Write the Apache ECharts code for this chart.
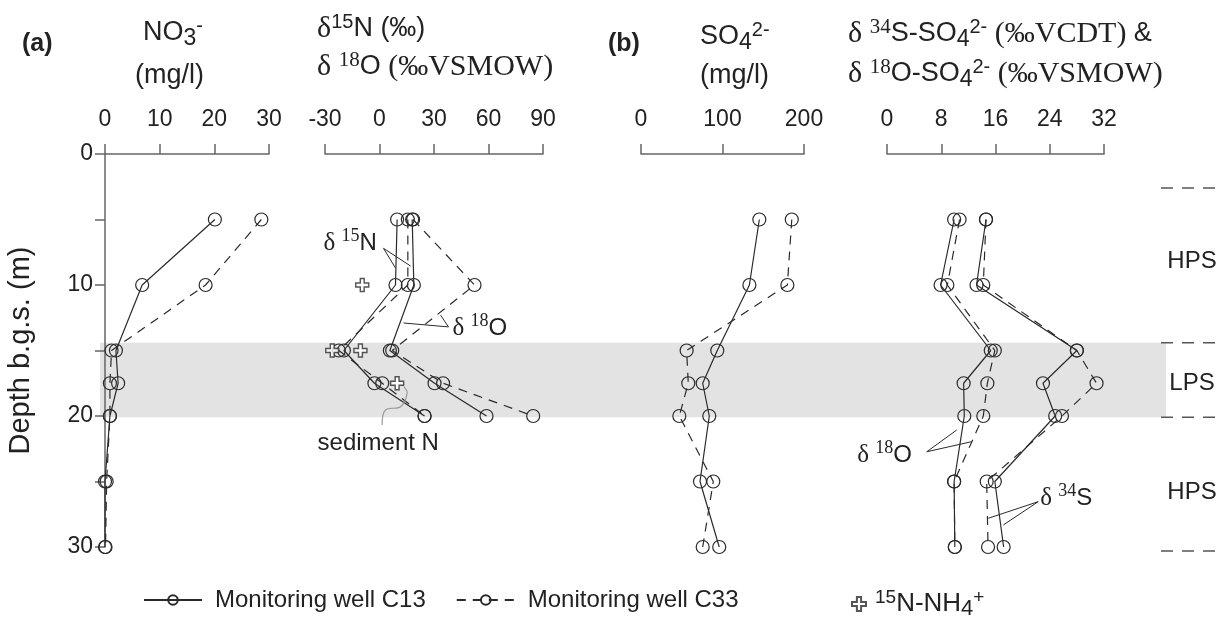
<!DOCTYPE html>
<html>
<head>
<meta charset="utf-8">
<script src="https://cdn.jsdelivr.net/npm/echarts@6/dist/echarts.min.js"></script>
<style>
  html, body { margin: 0; padding: 0; background: #fff; }
  #chart { width: 1223px; height: 617px; }
</style>
</head>
<body>
<div id="chart"></div>
<script>
// depths below ground surface (m)
const depths = [5, 10, 15, 17.5, 20, 25, 30];
const isoDepths = [5, 10, 15, 17.5, 20];

// (a) nitrate
const no3C13 = [20.1, 6.8, 2.0, 2.4, 0.9, 0, 0];
const no3C33 = [28.6, 18.4, 1.2, 0.9, 0.9, 0.3, 0.1];
const d15nC13 = [9.7, 8.8, -19.6, -2.8, 24.8];
const d15nC33 = [15.6, 15.6, -22.4, 1.5, 24.8];
const d18oC13 = [18.0, 18.9, 5.7, 30.3, 58.9];
const d18oC33 = [18.5, 52.3, 7.0, 35.0, 84.6];
const nh4Depths = [10, 15, 15, 17.5];
const nh4Values = [-9.5, -26, -10.5, 9.7];

// (b) sulfate
const so4C13 = [145.2, 133, 93.6, 75.7, 83.8, 72.4, 96];
const so4C33 = [185, 179.6, 56, 58, 47, 88.7, 75.7];
const d34sC13 = [14.6, 13.2, 28.0, 23.0, 24.8, 15.9, 17.2];
const d34sC33 = [14.6, 14.2, 28.0, 30.9, 25.8, 14.7, 14.9];
const d18osC13 = [9.9, 7.9, 15.3, 11.3, 11.4, 9.9, 10.0];
const d18osC33 = [10.7, 8.9, 15.9, 14.8, 14.2, 9.9, 10.0];

// zones
const lpsZone = [14.4, 20.1];
const zoneLines = [2.6, 14.4, 20.1, 30.3];
const zoneNames = ['HPS', 'LPS', 'HPS'];
const zoneLabelDepths = [8.2, 17.5, 25.8];

const INK = '#2a2a2a';
const AXIS = '#666';
const SANS = 'Liberation Sans';
const SERIF = 'Liberation Serif';
const PLUS = 'path://M3.5,0H6.5V3.5H10V6.5H6.5V10H3.5V6.5H0V3.5H3.5Z';

const grids = [
  { left: 105, width: 164 },
  { left: 325, width: 218 },
  { left: 641, width: 163 },
  { left: 887, width: 217 }
].map(g => Object.assign({ top: 154, height: 393, outerBoundsMode: 'none' }, g));

const xRanges = [[0, 30, 10], [-30, 90, 30], [0, 200, 100], [0, 32, 8]];

function pairs(vals, ds) {
  return vals.map((v, i) => [v, ds[i]]);
}

function profile(name, grid, vals, ds, dashed) {
  return {
    name: name,
    type: 'line',
    xAxisIndex: grid,
    yAxisIndex: grid,
    data: pairs(vals, ds),
    symbol: 'circle',
    symbolSize: 13,
    itemStyle: { color: 'rgba(0,0,0,0)', borderColor: INK, borderWidth: 1.2 },
    lineStyle: { color: INK, width: 1.2, type: dashed ? [9, 7] : 'solid' },
    emphasis: { disabled: true },
    z: 3
  };
}

const C13 = 'Monitoring well C13', C33 = 'Monitoring well C33';

const option = {
  animation: false,
  textStyle: { fontFamily: SANS },
  grid: grids,
  xAxis: xRanges.map((r, i) => ({
    gridIndex: i,
    type: 'value',
    position: 'top',
    min: r[0], max: r[1], interval: r[2],
    axisLine: { show: true, onZero: false, lineStyle: { color: AXIS, width: 1.5 } },
    axisTick: { show: true, length: 10, lineStyle: { color: AXIS, width: 1.5 } },
    axisLabel: { fontSize: 23, color: '#222', margin: 23 },
    splitLine: { show: false }
  })),
  yAxis: xRanges.map((r, i) => ({
    gridIndex: i,
    type: 'value',
    inverse: true,
    min: 0, max: 30, interval: 5,
    show: i === 0,
    axisLine: { show: true, onZero: false, lineStyle: { color: AXIS, width: 1.5 } },
    axisTick: { show: true, length: 10, lineStyle: { color: AXIS, width: 1.5 } },
    axisLabel: { fontSize: 23, color: '#222', margin: 12, formatter: v => (v % 10 === 0 ? v : '') },
    splitLine: { show: false },
    name: i === 0 ? 'Depth b.g.s. (m)' : '',
    nameLocation: 'middle',
    nameRotate: 90,
    nameGap: 70,
    nameTextStyle: { fontSize: 29, color: '#222' }
  })),
  legend: [
    {
      data: [C13, C33],
      left: 138, top: 583,
      itemWidth: 58, itemHeight: 12, itemGap: 30,
      textStyle: { fontSize: 24, color: '#222', padding: [0, 0, 0, 8] }
    },
    {
      data: [{ name: 'NH4', icon: PLUS }],
      left: 846, top: 583,
      itemWidth: 14, itemHeight: 14,
      formatter: () => '{sup|15}N-NH{sub|4}{sup|+}',
      textStyle: {
        fontSize: 26, color: '#222', lineHeight: 32, padding: [0, 0, 0, 4],
        rich: {
          sup: { fontSize: 19, verticalAlign: 'top', lineHeight: 20, color: '#222' },
          sub: { fontSize: 22, verticalAlign: 'bottom', lineHeight: 22, color: '#222' }
        }
      }
    }
  ],
  series: [
    profile(C13, 0, no3C13, depths, false),
    profile(C33, 0, no3C33, depths, true),
    profile(C13, 1, d15nC13, isoDepths, false),
    profile(C33, 1, d15nC33, isoDepths, true),
    profile(C13, 1, d18oC13, isoDepths, false),
    profile(C33, 1, d18oC33, isoDepths, true),
    {
      name: 'NH4',
      type: 'scatter',
      xAxisIndex: 1, yAxisIndex: 1,
      data: pairs(nh4Values, nh4Depths),
      symbol: PLUS,
      symbolSize: 13,
      itemStyle: { color: '#fff', borderColor: INK, borderWidth: 1.4 },
      emphasis: { disabled: true },
      z: 4
    },
    profile(C13, 2, so4C13, depths, false),
    profile(C33, 2, so4C33, depths, true),
    profile(C13, 3, d34sC13, depths, false),
    profile(C33, 3, d34sC33, depths, true),
    profile(C13, 3, d18osC13, depths, false),
    profile(C33, 3, d18osC33, depths, true)
  ]
};

const chart = echarts.init(document.getElementById('chart'));
chart.setOption(option);

const px = (g, p) => chart.convertToPixel({ gridIndex: g }, p);

const rich = {
  n: { fontFamily: SANS, fontSize: 24, lineHeight: 32, fill: '#222' },
  t: { fontFamily: SANS, fontSize: 27, lineHeight: 34, fill: '#222' },
  s: { fontFamily: SERIF, fontSize: 25, lineHeight: 32, fill: '#222' },
  ts: { fontFamily: SERIF, fontSize: 30, lineHeight: 34, fill: '#222' },
  sup: { fontFamily: SANS, fontSize: 17, lineHeight: 19, verticalAlign: 'top', fill: '#222' },
  tsup: { fontFamily: SANS, fontSize: 20, lineHeight: 20, verticalAlign: 'top', fill: '#222' },
  ssup: { fontFamily: SERIF, fontSize: 18, lineHeight: 19, verticalAlign: 'top', fill: '#222' },
  tssup: { fontFamily: SERIF, fontSize: 21, lineHeight: 20, verticalAlign: 'top', fill: '#222' },
  tsub: { fontFamily: SANS, fontSize: 23, lineHeight: 23, verticalAlign: 'bottom', fill: '#222' },
  b: { fontFamily: SANS, fontSize: 25, lineHeight: 32, fontWeight: 'bold', fill: '#222' }
};

function label(x, y, text, align) {
  return {
    type: 'text', x: x, y: y, silent: true, z: 10,
    style: { text: text, rich: rich, align: align || 'left', verticalAlign: 'middle', fill: '#222', fontSize: 24, fontFamily: SANS }
  };
}

// panel titles
const titles = [
  [22, 44, '{b|(a)}'],
  [143, 33, '{t|NO}{tsub|3}{tsup|-}'],
  [135, 76, '{t|(mg/l)}'],
  [317, 29, '{ts|δ}{tsup|15}{t|N (‰)}'],
  [317, 67, '{ts|δ }{tssup|18}{t|O }{ts|(‰VSMOW)}'],
  [608, 44, '{b|(b)}'],
  [700, 37, '{t|SO}{tsub|4}{tsup|2-}'],
  [700, 76, '{t|(mg/l)}'],
  [848, 34, '{ts|δ }{tssup|34}{t|S-SO}{tsub|4}{tsup|2-}{ts| (‰VCDT)}{t| &}'],
  [848, 74, '{ts|δ }{tssup|18}{t|O-SO}{tsub|4}{tsup|2-}{ts| (‰VSMOW)}']
];

// annotation labels and pointers, in data units of each panel
const notes = [
  { grid: 1, at: [-30.8, 6.8], text: '{s|δ }{ssup|15}{n|N}' },
  { grid: 1, at: [40.2, 13.3], text: '{s|δ }{ssup|18}{n|O}' },
  { grid: 1, at: [-34.1, 22.06], text: '{n|sediment N}' },
  { grid: 3, at: [-4.4, 23.0], text: '{s|δ }{ssup|18}{n|O}' },
  { grid: 3, at: [22.6, 26.3], text: '{s|δ }{ssup|34}{n|S}' }
];
const pointers = [
  { grid: 1, pts: [[8.8, 8.7], [2.2, 7.2], [17.1, 8.55]] },
  { grid: 1, pts: [[13.2, 12.9], [38.0, 13.2], [33.6, 12.3]] },
  { grid: 3, pts: [[10.28, 21.07], [5.86, 22.73], [12.49, 21.96]] },
  { grid: 3, pts: [[14.94, 27.81], [22.3, 26.54], [17.15, 28.32]] }
];
const sedimentCurve = [[1.5, 20.69], [3.3, 19.54], [11.6, 19.29], [15.2, 18.27], [13.4, 17.76]];

const graphic = [];
const yTop = px(0, [0, lpsZone[0]])[1];
const yBot = px(0, [0, lpsZone[1]])[1];
graphic.push({
  type: 'rect', z: -10, silent: true,
  shape: { x: 100, y: yTop, width: 1066, height: yBot - yTop },
  style: { fill: '#e3e3e3' }
});

zoneLines.forEach(d => {
  const y = px(0, [0, d])[1];
  graphic.push({
    type: 'line', silent: true,
    shape: { x1: 1161, y1: y, x2: 1218, y2: y },
    style: { stroke: '#555', lineWidth: 1.5, lineDash: [12, 9] }
  });
});
zoneNames.forEach((n, i) => {
  graphic.push(label(1192, px(0, [0, zoneLabelDepths[i]])[1], '{n|' + n + '}', 'center'));
});

titles.forEach(t => graphic.push(label(t[0], t[1], t[2])));
notes.forEach(n => {
  const p = px(n.grid, n.at);
  graphic.push(label(p[0], p[1], n.text));
});
pointers.forEach(p => {
  graphic.push({
    type: 'polyline', silent: true, z: 10,
    shape: { points: p.pts.map(q => px(p.grid, q)) },
    style: { stroke: INK, lineWidth: 1, fill: null }
  });
});
graphic.push({
  type: 'polyline', silent: true, z: 10,
  shape: { points: sedimentCurve.map(q => px(1, q)), smooth: 0.4 },
  style: { stroke: '#9a9a9a', lineWidth: 1.2, fill: null }
});

chart.setOption({ graphic: graphic });
</script>
</body>
</html>
